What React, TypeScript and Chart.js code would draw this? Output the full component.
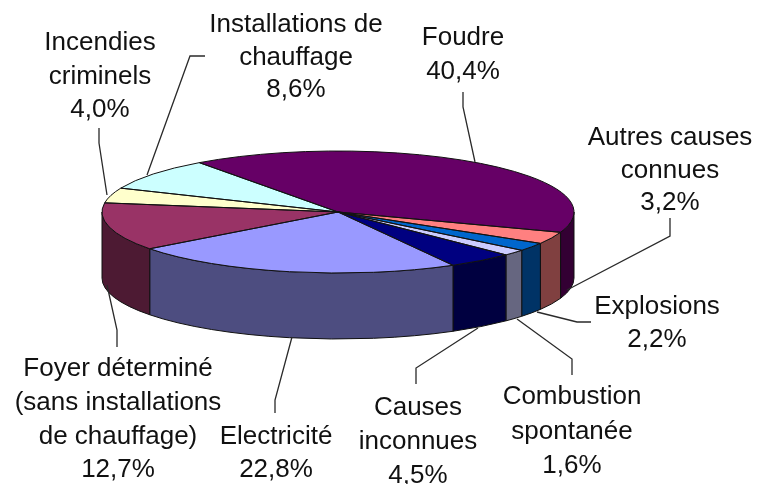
import React, { useEffect, useRef } from "react";
import { Chart, registerables } from "chart.js";

Chart.register(...registerables);

const categories = [
  "Foudre",
  "Autres causes connues",
  "Explosions",
  "Combustion spontanée",
  "Causes inconnues",
  "Electricité",
  "Foyer déterminé (sans installations de chauffage)",
  "Incendies criminels",
  "Installations de chauffage",
];
const values = [40.4, 3.2, 2.2, 1.6, 4.5, 22.8, 12.7, 4.0, 8.6];
const topColors = ["#660066", "#FF8080", "#0066CC", "#CCCCFF", "#000080", "#9999FF", "#993366", "#FFFFCC", "#CCFFFF"];
const wallColors = ["#330033", "#804040", "#003366", "#666680", "#000040", "#4D4D80", "#4D1A33", "#808066", "#668080"];

const labelLines = [
  ["Foudre", "40,4%"],
  ["Autres causes", "connues", "3,2%"],
  ["Explosions", "2,2%"],
  ["Combustion", "spontanée", "1,6%"],
  ["Causes", "inconnues", "4,5%"],
  ["Electricité", "22,8%"],
  ["Foyer déterminé", "(sans installations", "de chauffage)", "12,7%"],
  ["Incendies", "criminels", "4,0%"],
  ["Installations de", "chauffage", "8,6%"],
];
const labelX = [463, 670, 657, 572, 418, 276, 118, 100, 296];
const labelY = [
  [36, 70],
  [136, 169, 201],
  [305, 338],
  [395, 430, 464],
  [406, 440, 474],
  [435, 468],
  [367, 401, 435, 468],
  [41, 75, 108],
  [23, 56, 88],
];
const leaders = [
  [[463, 92], [463, 107], [475, 162]],
  [[567, 290], [670, 236], [670, 218]],
  [[537, 312], [577, 322], [591, 322]],
  [[517, 319], [572, 359], [572, 375]],
  [[478, 328], [416, 368], [416, 384]],
  [[292, 337], [275, 400], [275, 413]],
  [[107, 285], [117, 330], [117, 347]],
  [[99, 128], [99, 143], [107, 195]],
  [[205, 56], [190, 56], [147, 175]],
];

const CX = 338;
const CY = 212;
const RX = 236;
const RY = 61;
const DEPTH = 66;
const ROTATION = -36;
const TEXT_SHIFT = 1.5;

const pie3d = {
  id: "pie3d",
  beforeDatasetsDraw(chart: any) {
    const ctx = chart.ctx;
    const arcs = chart.getDatasetMeta(0).data;
    const first = arcs[0];
    const R = first.outerRadius;
    const PI2 = Math.PI * 2;

    // side walls: the part of each slice that lies on the front half
    ctx.save();
    ctx.lineWidth = 1;
    ctx.strokeStyle = "#111";
    arcs.forEach((a: any, i: number) => {
      for (const shift of [-PI2, 0, PI2]) {
        const s = Math.max(a.startAngle + shift, 0);
        const e = Math.min(a.endAngle + shift, Math.PI);
        if (e <= s) continue;
        ctx.beginPath();
        ctx.ellipse(CX, CY, RX, RY, 0, s, e);
        ctx.ellipse(CX, CY + DEPTH, RX, RY, 0, e, s, true);
        ctx.closePath();
        ctx.fillStyle = wallColors[i];
        ctx.fill();
        ctx.stroke();
      }
    });
    ctx.restore();

    // the library's arcs are drawn through this squash until afterDatasetsDraw
    ctx.save();
    ctx.translate(CX, CY);
    ctx.scale(RX / R, RY / R);
    ctx.translate(-first.x, -first.y);
  },
  afterDatasetsDraw(chart: any) {
    const ctx = chart.ctx;
    ctx.restore();
    const arcs = chart.getDatasetMeta(0).data;

    // slice outlines
    ctx.save();
    ctx.lineWidth = 1;
    ctx.strokeStyle = "#111";
    arcs.forEach((a: any) => {
      ctx.beginPath();
      ctx.moveTo(CX, CY);
      ctx.ellipse(CX, CY, RX, RY, 0, a.startAngle, a.endAngle);
      ctx.closePath();
      ctx.stroke();
    });
    ctx.restore();
  },
  afterDraw(chart: any) {
    const ctx = chart.ctx;
    ctx.save();
    ctx.strokeStyle = "#2a2a2a";
    ctx.lineWidth = 1.3;
    leaders.forEach((pts) => {
      ctx.beginPath();
      pts.forEach(([x, y], i) => (i ? ctx.lineTo(x, y) : ctx.moveTo(x, y)));
      ctx.stroke();
    });
    ctx.fillStyle = "#111";
    ctx.font = '26px "Liberation Sans", Arial, sans-serif';
    ctx.textAlign = "center";
    ctx.textBaseline = "middle";
    labelLines.forEach((lines, i) => {
      lines.forEach((t, j) => ctx.fillText(t, labelX[i], labelY[i][j] + TEXT_SHIFT));
    });
    ctx.restore();
  },
};

export default function App() {
  const ref = useRef<HTMLCanvasElement>(null);
  useEffect(() => {
    const chart = new Chart(ref.current!, {
      type: "pie",
      data: {
        labels: categories,
        datasets: [
          {
            data: values,
            backgroundColor: topColors,
            borderWidth: 0,
            clip: false,
          } as any,
        ],
      },
      options: {
        animation: false,
        responsive: false,
        rotation: ROTATION,
        plugins: { legend: { display: false }, tooltip: { enabled: false } },
      },
      plugins: [pie3d],
    });
    return () => chart.destroy();
  }, []);
  return (
    <canvas
      ref={ref}
      width={758}
      height={484}
      style={{ position: "fixed", left: 0, top: 0, display: "block", filter: "blur(0.45px)" }}
    />
  );
}
